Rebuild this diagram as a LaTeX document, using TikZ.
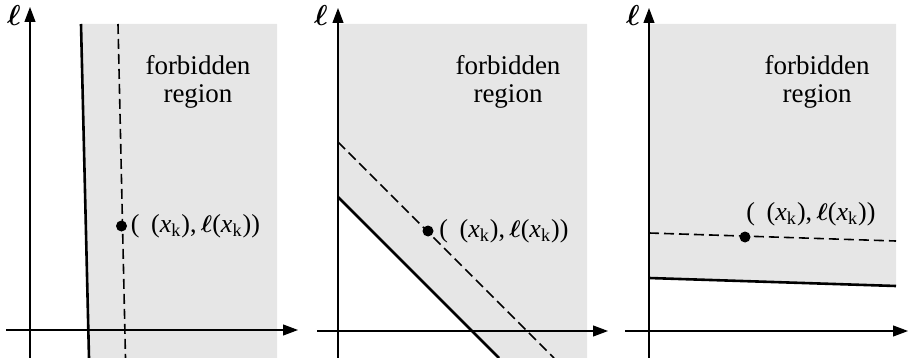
\documentclass[tikz,border=0pt]{standalone}
\usepackage{fontspec}
\setmainfont{Liberation Serif}
\usetikzlibrary{arrows.meta, positioning}
\definecolor{forbidgray}{HTML}{E6E6E6}

\tikzset{
  axis/.style={line width=0.55pt, -{Triangle[length=7.5pt, width=5.5pt]}},
  bound/.style={line width=1.3pt},
  level/.style={line width=0.8pt, dash pattern=on 5pt off 2.5pt},
  iterate/.style={circle, fill=black, inner sep=0pt, minimum size=5.5pt},
  ptlabel/.style={inner sep=1pt, font=\fontsize{13}{14}\selectfont},
  regionlabel/.style={align=center, inner sep=0pt, font=\fontsize{13.5}{14}\selectfont},
  axlabel/.style={inner sep=0pt, font=\fontsize{14}{14}\selectfont\boldmath},
}
\newcommand{\itpoint}{(\hspace{0.45em}(\textit{x}\textsubscript{k}),\,{\boldmath$\ell$}(\textit{x}\textsubscript{k}))}

\begin{document}
\begin{tikzpicture}[x=0.5pt, y=-0.5pt]
  \useasboundingbox (0,0) rectangle (910,358);

  % left: steep boundary
  \fill[forbidgray] (81,24) -- (277,24) -- (277,358) -- (89,358) -- cycle;
  \draw[bound] (81,24) -- (89,358);
  \draw[level] (118,24) -- (125.5,358);
  \coordinate (xa1) at (6,330);   \coordinate (xb1) at (298,330);
  \coordinate (ya1) at (30,358);  \coordinate (yb1) at (30,7);
  \draw[axis] (xa1) -- (xb1);
  \draw[axis] (ya1) -- (yb1);
  \node[axlabel] (ell1) at (14,16) {$\ell$};
  \node[iterate] (k1) at (121.5,226) {};
  \node[ptlabel, right=0.5pt of k1] (pt1) {\itpoint};
  \node[regionlabel] (reg1) at (198,82) {forbidden\\region};

  % middle: slope -1 boundary
  \fill[forbidgray] (338,24) -- (587,24) -- (587,358) -- (499,358) -- (338,197) -- cycle;
  \draw[bound] (338,197) -- (499,358);
  \draw[level] (338,142) -- (554,358);
  \coordinate (xa2) at (317,331);  \coordinate (xb2) at (608,331);
  \coordinate (ya2) at (338,358);  \coordinate (yb2) at (338,8);
  \draw[axis] (xa2) -- (xb2);
  \draw[axis] (ya2) -- (yb2);
  \node[axlabel] (ell2) at (321,16) {$\ell$};
  \node[iterate] (k2) at (428,231) {};
  \node[ptlabel, right=1.5pt of k2] (pt2) {\itpoint};
  \node[regionlabel] (reg2) at (508,82) {forbidden\\region};

  % right: flat boundary
  \fill[forbidgray] (649,24) -- (896,24) -- (896,286) -- (649,278) -- cycle;
  \draw[bound] (649,278) -- (896,286);
  \draw[level] (649,233) -- (896,241);
  \coordinate (xa3) at (625,331);  \coordinate (xb3) at (908,331);
  \coordinate (ya3) at (649,358);  \coordinate (yb3) at (649,8);
  \draw[axis] (xa3) -- (xb3);
  \draw[axis] (ya3) -- (yb3);
  \node[axlabel] (ell3) at (633,16) {$\ell$};
  \node[iterate] (k3) at (745,237) {};
  \node[ptlabel, anchor=west] (pt3) at (744,214) {\itpoint};
  \node[regionlabel] (reg3) at (817,82) {forbidden\\region};
\end{tikzpicture}
\end{document}
